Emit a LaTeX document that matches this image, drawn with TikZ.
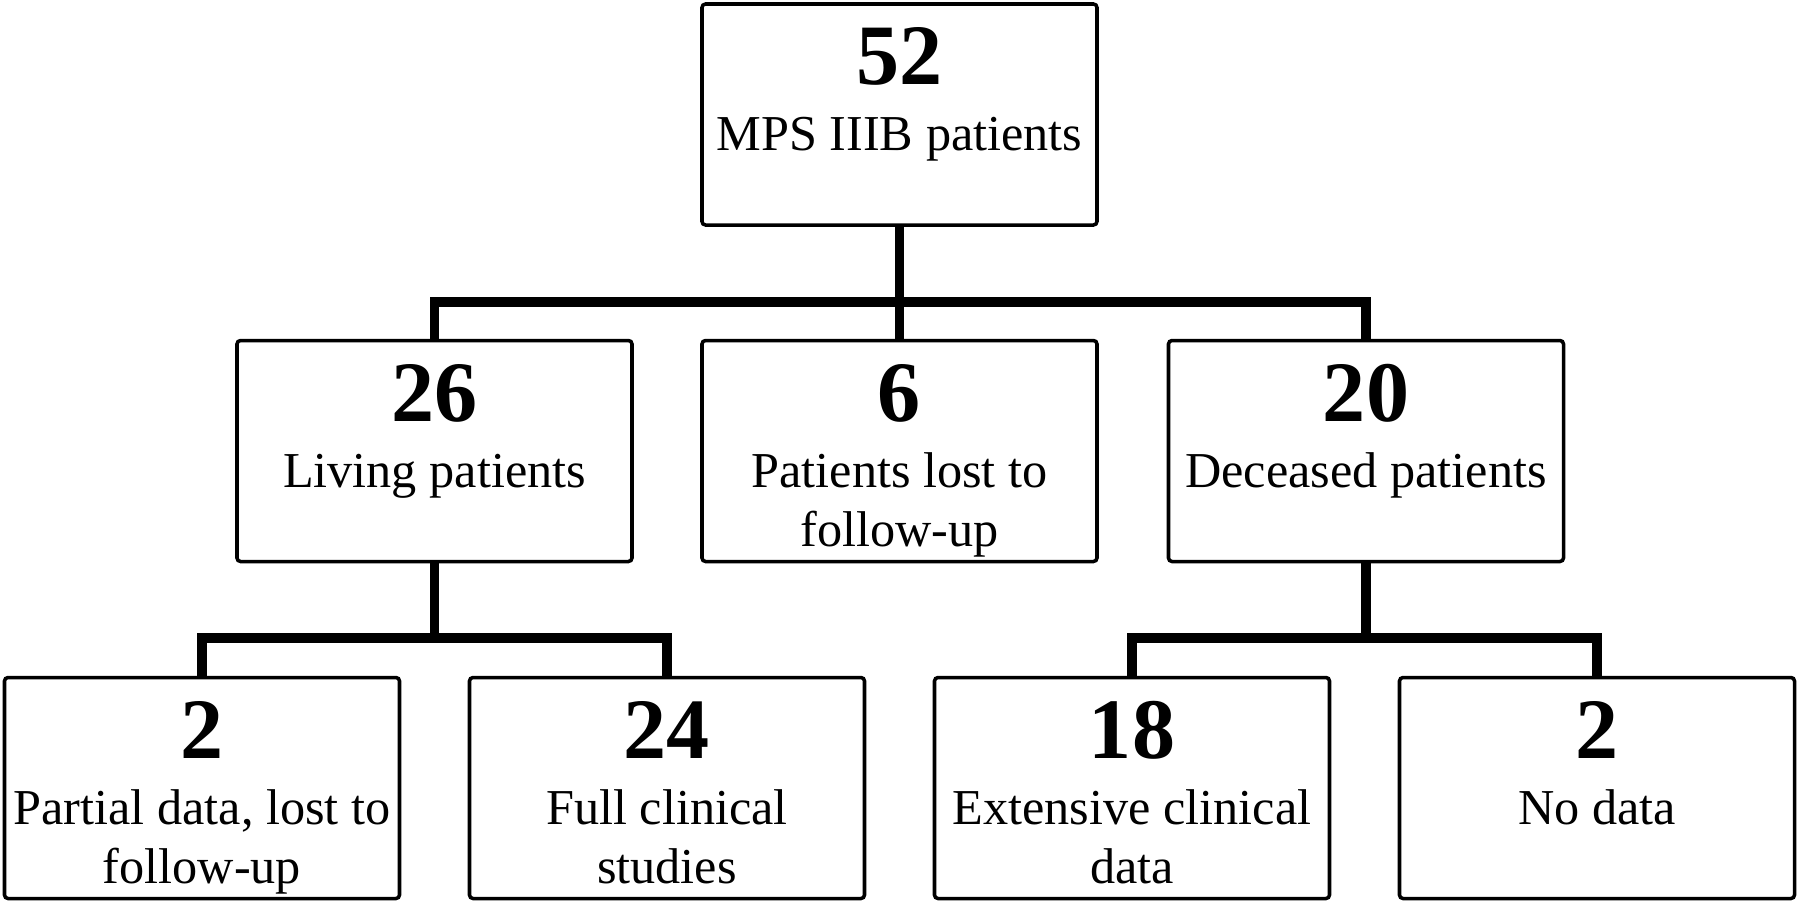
\documentclass[tikz,border=0pt]{standalone}
\usepackage{fontspec}
\setmainfont{Liberation Serif}

\newcommand{\numfont}{\fontsize{24.5pt}{29pt}\selectfont\bfseries}
\newcommand{\labfont}{\fontsize{14.3pt}{16.8pt}\selectfont}
\newcommand{\boxtext}[2]{\parbox[c][2.2cm][t]{3.9cm}{\centering\rule{0pt}{0.80cm}{\numfont #1}\par\vspace{0.07cm}{\labfont #2\par}}}

\tikzset{
    countbox/.style={draw, line width=1pt, rounded corners=1pt, inner sep=0pt,
        minimum width=3.95cm, minimum height=2.21cm},
    link/.style={line width=2.6pt, line join=miter},
}

\begin{document}
\begin{tikzpicture}
    \def \rowa{7.875}
    \def \rowb{4.51}
    \def \rowc{1.14}

    \useasboundingbox (0,0) rectangle (18,9.02);

    \node[countbox] (all) at (8.995,\rowa) {\boxtext{52}{MPS IIIB patients}};

    \node[countbox] (living)   at (4.345,\rowb) {\boxtext{26}{Living patients}};
    \node[countbox] (lost)     at (8.995,\rowb) {\boxtext{6}{Patients lost to\\follow-up}};
    \node[countbox] (deceased) at (13.66,\rowb) {\boxtext{20}{Deceased patients}};

    \node[countbox] (partial)   at (2.02,\rowc)  {\boxtext{2}{Partial data, lost to\\follow-up}};
    \node[countbox] (full)      at (6.67,\rowc)  {\boxtext{24}{Full clinical\\studies}};
    \node[countbox] (extensive) at (11.32,\rowc) {\boxtext{18}{Extensive clinical\\data}};
    \node[countbox] (nodata)    at (15.97,\rowc) {\boxtext{2}{No data}};

    \coordinate (busa) at (0,6.00);
    \coordinate (busl) at (0,2.64);
    \coordinate (busd) at (0,2.64);

    % first split
    \draw[link] (all.south) -- (lost.north);
    \draw[link] (living.north) -- (living.north |- busa) -- (deceased.north |- busa) -- (deceased.north);

    % second split
    \draw[link] (living.south) -- (living.south |- busl);
    \draw[link] (partial.north) -- (partial.north |- busl) -- (full.north |- busl) -- (full.north);
    \draw[link] (deceased.south) -- (deceased.south |- busd);
    \draw[link] (extensive.north) -- (extensive.north |- busd) -- (nodata.north |- busd) -- (nodata.north);
\end{tikzpicture}
\end{document}
